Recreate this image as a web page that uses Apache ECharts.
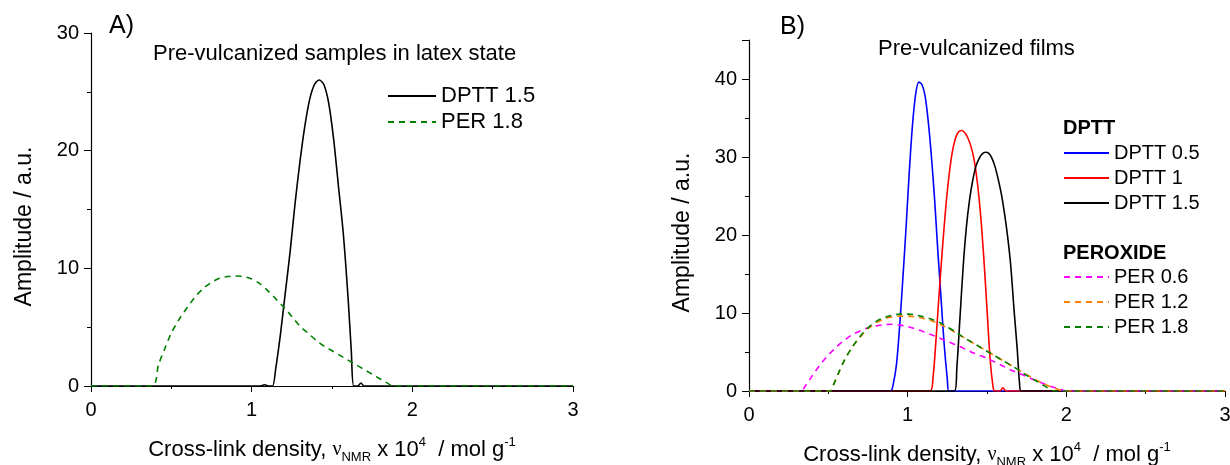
<!DOCTYPE html>
<html>
<head>
<meta charset="utf-8">
<script src="https://cdn.jsdelivr.net/npm/echarts@6/dist/echarts.min.js"></script>
<style>
  html, body { margin: 0; padding: 0; background: #fff; }
  #chart { width: 1230px; height: 465px; }
</style>
</head>
<body>
<div id="chart"></div>
<script>
// ---- data ----
// Panel A: pre-vulcanized samples in latex state
var latexDptt15 = [[0,0],[1.05,0],[1.08,0.1],[1.11,0],[1.13,0],[1.15,1.5],[1.18,4.5],[1.21,8],[1.24,11.5],[1.27,15.5],[1.30,19],[1.33,22],[1.36,24.3],[1.39,25.6],[1.42,26],[1.45,25.6],[1.48,24],[1.51,21],[1.54,17],[1.57,13],[1.60,7.5],[1.62,3],[1.635,0],[1.66,0],[1.68,0.25],[1.70,0],[3,0]];
var latexPer18 = [[0,0],[0.38,0],[0.42,1.8],[0.46,3.2],[0.5,4.5],[0.55,5.7],[0.6,6.7],[0.65,7.6],[0.7,8.3],[0.75,8.8],[0.8,9.15],[0.85,9.3],[0.9,9.35],[0.95,9.3],[1.0,9.1],[1.05,8.7],[1.1,8.1],[1.15,7.4],[1.2,6.7],[1.25,5.9],[1.3,5.1],[1.35,4.5],[1.4,3.9],[1.45,3.4],[1.5,3.0],[1.55,2.6],[1.6,2.2],[1.65,1.8],[1.7,1.4],[1.75,1.0],[1.8,0.6],[1.85,0.2],[1.88,0],[3,0]];

// Panel B: pre-vulcanized films
var filmDptt05 = [[0,0],[0.89,0],[0.91,1],[0.93,3.5],[0.95,8.5],[0.97,14.5],[0.99,21],[1.01,28],[1.03,34],[1.05,38],[1.07,39.6],[1.09,39.3],[1.11,37.8],[1.13,34.5],[1.15,30],[1.17,24.5],[1.19,18],[1.21,12],[1.23,6],[1.25,1.5],[1.26,0],[3,0]];
var filmDptt1 = [[0,0],[1.14,0],[1.16,1.8],[1.18,7],[1.20,13],[1.22,18.5],[1.24,23.5],[1.26,27.5],[1.28,30.5],[1.30,32.3],[1.32,33.2],[1.34,33.4],[1.36,33.1],[1.38,32.4],[1.40,31.3],[1.42,29.5],[1.44,26.6],[1.46,22.5],[1.48,17],[1.50,10.5],[1.52,4],[1.54,0.3],[1.55,0],[1.58,0],[1.60,0.4],[1.62,0],[3,0]];
var filmDptt15 = [[0,0],[1.295,0],[1.31,3],[1.33,9.5],[1.35,16],[1.37,21],[1.39,24.5],[1.41,27],[1.43,28.8],[1.45,29.8],[1.47,30.4],[1.49,30.6],[1.51,30.5],[1.53,29.9],[1.55,28.8],[1.57,27.2],[1.59,25.3],[1.61,22.8],[1.63,19.8],[1.65,16],[1.67,10.5],[1.69,5.5],[1.705,1],[1.715,0],[3,0]];
var filmPer06 = [[0,0],[0.33,0],[0.35,0.5],[0.4,2],[0.45,3.4],[0.5,4.6],[0.55,5.6],[0.6,6.5],[0.65,7.2],[0.7,7.7],[0.75,8.1],[0.8,8.35],[0.85,8.5],[0.9,8.55],[0.95,8.45],[1.0,8.25],[1.05,7.95],[1.1,7.6],[1.15,7.2],[1.2,6.8],[1.25,6.35],[1.3,5.95],[1.35,5.5],[1.4,5.0],[1.45,4.6],[1.5,4.2],[1.55,3.7],[1.6,3.2],[1.65,2.7],[1.7,2.3],[1.75,1.85],[1.8,1.4],[1.85,1.0],[1.9,0.6],[1.95,0.3],[2.0,0],[3,0]];
var filmPer12 = [[0,0],[0.51,0],[0.53,0.7],[0.56,2.1],[0.6,3.9],[0.65,5.6],[0.7,6.9],[0.75,8.0],[0.8,8.7],[0.85,9.2],[0.9,9.5],[0.95,9.6],[1.0,9.6],[1.05,9.5],[1.1,9.3],[1.15,9.0],[1.2,8.6],[1.25,8.1],[1.3,7.5],[1.35,6.9],[1.4,6.3],[1.45,5.7],[1.5,5.1],[1.55,4.5],[1.6,3.9],[1.65,3.3],[1.7,2.7],[1.75,2.1],[1.8,1.5],[1.85,1.0],[1.9,0.55],[1.95,0.2],[1.98,0],[3,0]];
var filmPer18 = [[0,0],[0.51,0],[0.53,0.7],[0.56,2.1],[0.6,3.9],[0.65,5.6],[0.7,7.0],[0.75,8.1],[0.8,8.9],[0.85,9.4],[0.9,9.7],[0.95,9.85],[1.0,9.85],[1.05,9.75],[1.1,9.5],[1.15,9.2],[1.2,8.8],[1.25,8.2],[1.3,7.6],[1.35,6.9],[1.4,6.3],[1.45,5.7],[1.5,5.1],[1.55,4.5],[1.6,3.9],[1.65,3.3],[1.7,2.7],[1.75,2.0],[1.8,1.4],[1.85,0.8],[1.9,0.2],[1.92,0],[3,0]];

var FONT = 'Liberation Sans';
var dash = [6, 5];

function xAxisOf(grid) {
	return {
		type: 'value',
		gridIndex: grid,
		min: 0,
		max: 3,
		interval: 1,
		name: '{t|Cross-link density, }{g|\u03bd}{s|NMR}{t| x 10}{p|4}{t|  / mol g}{p|-1}',
		nameLocation: 'middle',
		nameGap: 50,
		nameTextStyle: {
			rich: {
				t: { fontFamily: FONT, fontSize: 22, color: '#000', lineHeight: 28 },
				g: { fontFamily: 'Liberation Serif', fontSize: 20, color: '#000', lineHeight: 28 },
				s: { fontFamily: FONT, fontSize: 13, color: '#000', lineHeight: 11, verticalAlign: 'bottom' },
				p: { fontFamily: FONT, fontSize: 13, color: '#000', lineHeight: 13, verticalAlign: 'top' }
			}
		},
		axisLine: { onZero: false, lineStyle: { color: '#000', width: 1.2 } },
		axisTick: { length: 6, lineStyle: { color: '#000' } },
		minorTick: { show: true, splitNumber: 2, length: 3, lineStyle: { color: '#000' } },
		axisLabel: { fontFamily: FONT, fontSize: 20, color: '#000', margin: 14 },
		splitLine: { show: false }
	};
}

function yAxisOf(grid, max) {
	return {
		type: 'value',
		gridIndex: grid,
		min: 0,
		max: max,
		interval: 10,
		name: 'Amplitude / a.u.',
		nameLocation: 'middle',
		nameGap: 55,
		nameTextStyle: { fontFamily: FONT, fontSize: 23, color: '#000', padding: [0, 34, 0, 0] },
		axisLine: { show: true, lineStyle: { color: '#000', width: 1.2 } },
		axisTick: { show: true, length: 7, lineStyle: { color: '#000' } },
		minorTick: { show: true, splitNumber: 2, length: 4, lineStyle: { color: '#000' } },
		axisLabel: { fontFamily: FONT, fontSize: 20, color: '#000', margin: 12, showMaxLabel: max % 10 === 0 },
		splitLine: { show: false }
	};
}

function line(name, data, color, dashed, axis) {
	return {
		name: name,
		type: 'line',
		xAxisIndex: axis,
		yAxisIndex: axis,
		data: data,
		smooth: 0.3,
		symbol: 'none',
		lineStyle: { color: color, width: 1.6, type: dashed ? dash : 'solid' },
		itemStyle: { color: color }
	};
}

var legendBase = {
	orient: 'vertical',
	itemHeight: 14,
	itemStyle: { opacity: 0 },
	textStyle: { fontFamily: FONT, fontSize: 20, color: '#000' }
};

var option = {
	backgroundColor: '#fff',
	animation: false,
	title: [
		{ text: 'A)', left: 104, top: 9, textStyle: { fontFamily: FONT, fontSize: 25, fontWeight: 'normal', color: '#000' } },
		{ text: 'Pre-vulcanized samples in latex state', left: 148, top: 38, textStyle: { fontFamily: FONT, fontSize: 22, fontWeight: 'normal', color: '#000' } },
		{ text: 'B)', left: 775, top: 10, textStyle: { fontFamily: FONT, fontSize: 25, fontWeight: 'normal', color: '#000' } },
		{ text: 'Pre-vulcanized films', left: 873, top: 33, textStyle: { fontFamily: FONT, fontSize: 22, fontWeight: 'normal', color: '#000' } }
	],
	grid: [
		{ left: 91, top: 33, width: 482, height: 353, outerBoundsMode: 'none' },
		{ left: 749, top: 40, width: 476, height: 351, outerBoundsMode: 'none' }
	],
	xAxis: [xAxisOf(0), xAxisOf(1)],
	yAxis: [yAxisOf(0, 30), yAxisOf(1, 45)],
	legend: [
		Object.assign({}, legendBase, { left: 382, top: 80, itemWidth: 48, itemGap: 4, textStyle: { fontFamily: FONT, fontSize: 22, color: '#000' }, data: ['DPTT 1.5', 'PER 1.8'] }),
		Object.assign({}, legendBase, { left: 1058, top: 138, itemWidth: 45, itemGap: 5, data: ['DPTT 0.5', 'DPTT 1', 'DPTT 1.5'] }),
		Object.assign({}, legendBase, { left: 1058, top: 262, itemWidth: 45, itemGap: 5, data: ['PER 0.6', 'PER 1.2', 'PER 1.8'] })
	],
	graphic: [
		{ type: 'text', left: 1063, top: 118, style: { text: 'DPTT', font: 'bold 20px "' + FONT + '"', fill: '#000' } },
		{ type: 'text', left: 1063, top: 243, style: { text: 'PEROXIDE', font: 'bold 20px "' + FONT + '"', fill: '#000' } }
	],
	series: [
		line('DPTT 1.5', latexDptt15, '#000000', false, 0),
		line('PER 1.8', latexPer18, '#008000', true, 0),
		line('DPTT 0.5', filmDptt05, '#0000ff', false, 1),
		line('DPTT 1', filmDptt1, '#ff0000', false, 1),
		line('DPTT 1.5', filmDptt15, '#000000', false, 1),
		line('PER 0.6', filmPer06, '#ff00ff', true, 1),
		line('PER 1.2', filmPer12, '#ff8000', true, 1),
		line('PER 1.8', filmPer18, '#008000', true, 1)
	]
};

var chart = echarts.init(document.getElementById('chart'));
chart.setOption(option);
</script>
</body>
</html>
